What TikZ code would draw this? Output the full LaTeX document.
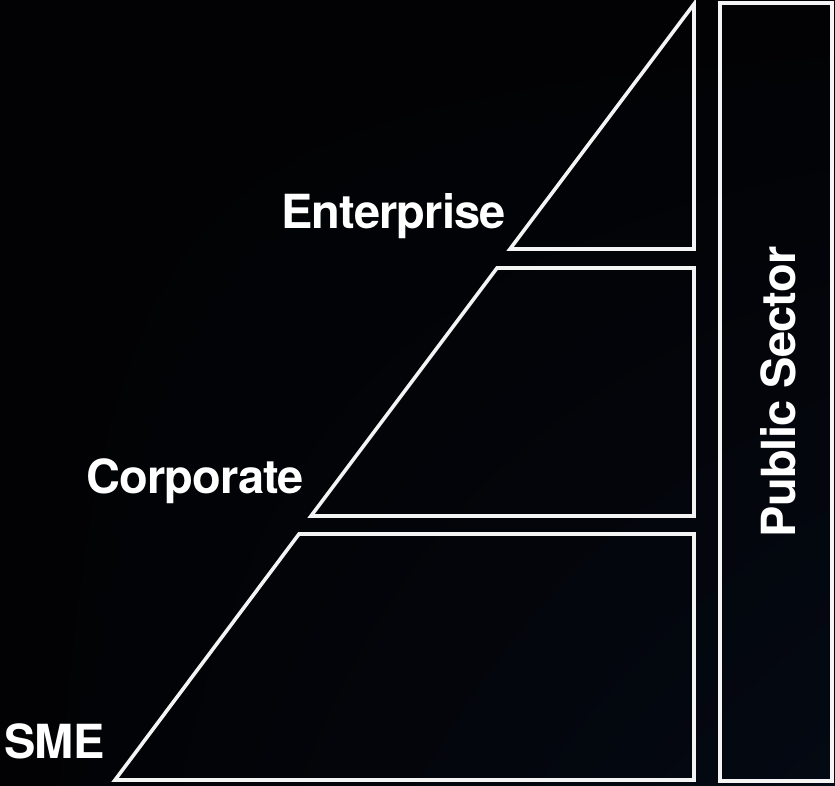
\documentclass[tikz,border=0pt]{standalone}
\usepackage{fontspec}
\usetikzlibrary{shadings}
\setmainfont{TeX Gyre Heros}[LetterSpace=-1.8]
\begin{document}
\begin{tikzpicture}[x=1pt,y=-1pt]
  \definecolor{bgdark}{RGB}{2,2,4}
  \definecolor{bgblue}{RGB}{4,9,19}
  \definecolor{linewhite}{RGB}{244,244,244}
  \tikzset{
    tier/.style={draw=linewhite, line width=3.6pt, line join=miter},
    label/.style={text=white, font=\bfseries\fontsize{47}{47}\selectfont, inner sep=0pt}
  }
  % near-black background, faintly blue towards the lower right
  \useasboundingbox (0,0) rectangle (835,785);
  \shade[upper left=bgdark, upper right=bgdark, lower left=bgdark, lower right=bgblue] (0,0) rectangle (835,785);

  % pyramid tiers
  \coordinate (apex) at (694,4);
  \draw[tier] (apex) -- (694,249) -- (510,249) -- cycle;
  \draw[tier] (497,268) -- (694,268) -- (694,516) -- (311,516) -- cycle;
  \draw[tier] (299,534) -- (694,534) -- (694,780) -- (115,780) -- cycle;

  % public sector column
  \draw[tier] (720,3) rectangle (832,781);

  % labels
  \node[label, anchor=base west] (enterprise) at (281,228) {Enterprise};
  \node[label, anchor=base west] (corporate) at (86,493) {Corporate};
  \node[label, anchor=base west] (sme) at (4,758) {SME};
  \node[label, rotate=90, anchor=base] (public) at (795,392) {Public Sector};
\end{tikzpicture}
\end{document}
